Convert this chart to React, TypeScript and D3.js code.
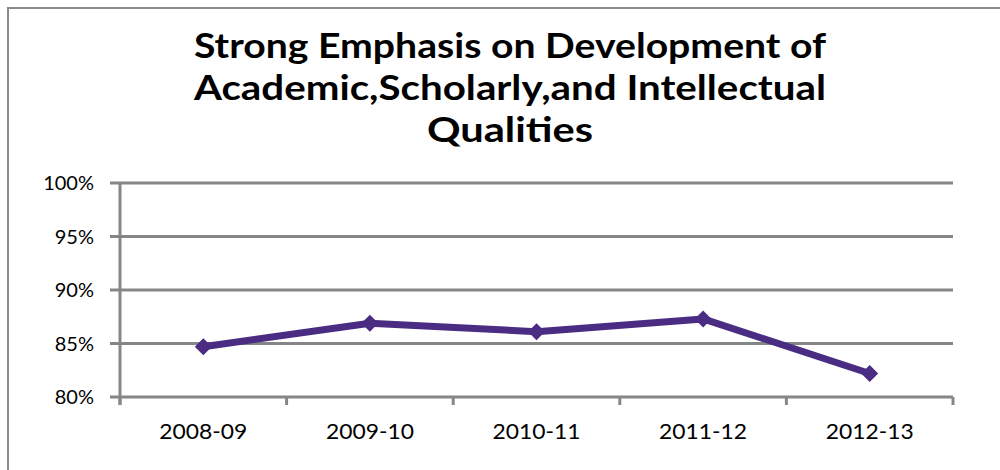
import React from "react";
import * as d3 from "d3";

const categories = ["2008-09", "2009-10", "2010-11", "2011-12", "2012-13"];
const values = [0.847, 0.869, 0.861, 0.873, 0.822];
const yTicks = [0.8, 0.85, 0.9, 0.95, 1.0];
const titleLines = [
  "Strong Emphasis on Development of",
  "Academic,Scholarly,and Intellectual",
  "Qualities",
];
const titleWidths = [632, 632, 166];

export default function App() {
  const W = 1000, H = 470;
  const x = d3.scaleBand<string>().domain(categories).range([120, 953]);
  const y = d3.scaleLinear().domain([0.8, 1.0]).range([397, 183]);
  const fmt = d3.format(".0%");
  const line = d3
    .line<number>()
    .x((_, i) => (x(categories[i]) as number) + x.bandwidth() / 2)
    .y((d) => y(d));
  const font = "'Lato', 'DejaVu Sans', sans-serif";
  const grid = "#868686";
  const purple = "#4B2C83";
  const boundaries = [...categories.map((c) => x(c) as number), x.range()[1]];
  return (
    <svg width={W} height={H} style={{ position: "absolute", left: 0, top: 0 }}>
      <rect x={0} y={0} width={W} height={H} fill="#fff" />
      <path d={`M8,${H} V8 H${W}`} fill="none" stroke="#8a8a8a" strokeWidth={2} />
      {titleLines.map((t, i) => (
        <text
          key={i}
          x={510}
          y={58 + i * 42}
          textAnchor="middle"
          fontFamily={font}
          fontWeight="bold"
          fontSize={34}
          textLength={titleWidths[i]}
          lengthAdjust="spacingAndGlyphs"
          fill="#000"
        >
          {t}
        </text>
      ))}
      {yTicks.map((t) => (
        <g key={t}>
          <line x1={110} x2={953} y1={y(t)} y2={y(t)} stroke={grid} strokeWidth={3} />
          <text
            x={94}
            y={y(t) + 7}
            textAnchor="end"
            fontFamily={font}
            fontSize={20}
            fill="#000"
          >
            {fmt(t)}
          </text>
        </g>
      ))}
      <line x1={120} x2={120} y1={y(1.0)} y2={y(0.8) + 8} stroke={grid} strokeWidth={3} />
      {boundaries.map((b, i) => (
        <line key={i} x1={b} x2={b} y1={y(0.8)} y2={y(0.8) + 8} stroke={grid} strokeWidth={3} />
      ))}
      {categories.map((c) => (
        <text
          key={c}
          x={(x(c) as number) + x.bandwidth() / 2}
          y={439}
          textAnchor="middle"
          fontFamily={font}
          fontSize={21}
          textLength={88}
          lengthAdjust="spacingAndGlyphs"
          fill="#000"
        >
          {c}
        </text>
      ))}
      <path d={line(values) || ""} fill="none" stroke={purple} strokeWidth={7} strokeLinejoin="round" />
      {values.map((v, i) => {
        const cx = (x(categories[i]) as number) + x.bandwidth() / 2;
        const cy = y(v);
        const r = 8.5;
        return (
          <path
            key={i}
            d={`M${cx},${cy - r} L${cx + r},${cy} L${cx},${cy + r} L${cx - r},${cy} Z`}
            fill={purple}
          />
        );
      })}
    </svg>
  );
}
